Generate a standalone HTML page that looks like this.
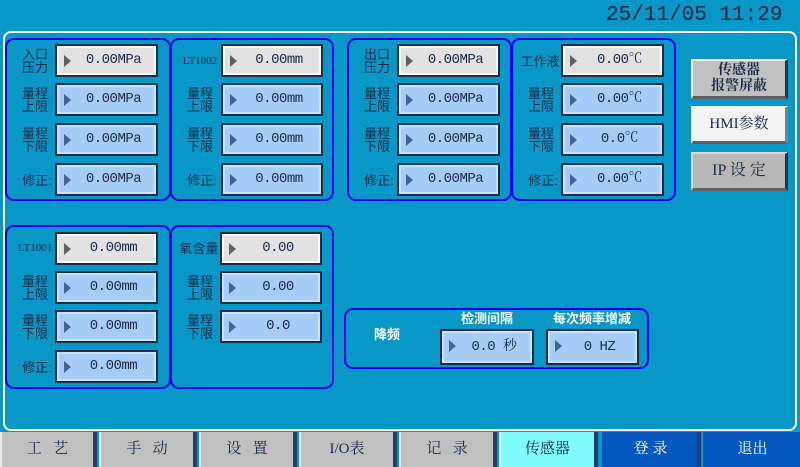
<!DOCTYPE html><html><head><meta charset="utf-8"><style>
*{margin:0;padding:0;box-sizing:border-box}
body{width:800px;height:467px;background:#0898c8;position:relative;overflow:hidden;font-family:"Liberation Serif","Noto Serif CJK SC",serif;color:#1a2a48}
.a{position:absolute}
.panel{left:3px;top:31px;width:794px;height:400px;border:2px solid #fff;border-radius:8px}
.g{position:absolute;border:2px solid #0000f0;border-radius:9px}
.f{position:absolute;height:33px;border:2px solid #1c2c44;background:#a6cdf7;box-shadow:inset 0 0 0 2px #c8e2ff;font-family:"Liberation Mono","Noto Serif CJK SC",monospace;font-size:14px;text-align:center;line-height:29px;padding-left:14px;letter-spacing:-0.5px}
.f.w{background:#e2e2e2;box-shadow:inset 0 0 0 2px #fafafa}
.f::before{content:"";position:absolute;left:7px;top:9px;border-left:7px solid #46609a;border-top:6px solid transparent;border-bottom:6px solid transparent}
.f.w::before{border-left-color:#606060}
.l{position:absolute;font-family:"Liberation Sans","Noto Sans CJK SC",sans-serif;font-size:13px;line-height:13px;text-align:center;color:#1a2a48}
.b{position:absolute;top:432px;height:35px;background:#c0c0c0;border-right:4px solid #20406a;border-left:2px solid #e8e8e8;font-family:"Liberation Serif","Noto Serif CJK SC",serif;font-size:15px;text-align:center;line-height:35px;color:#1a2a48}
.rb{position:absolute;left:691px;width:97px;border-top:2px solid #fff;border-left:2px solid #fff;border-right:3px solid #303030;border-bottom:3px solid #606060;text-align:center;font-size:15px}
</style></head><body>
<div class="a" style="left:606px;top:3px;font-family:'Liberation Mono',monospace;font-size:21px;line-height:26px;color:#102040">25/11/05 11:29</div>
<div class="a panel"></div>

<div class="g" style="left:5px;top:38px;width:166px;height:163px"></div>
<div class="g" style="left:170px;top:38px;width:164px;height:163px"></div>
<div class="g" style="left:347px;top:38px;width:165px;height:163px"></div>
<div class="g" style="left:511px;top:38px;width:165px;height:163px"></div>
<div class="g" style="left:5px;top:225px;width:166px;height:164px"></div>
<div class="g" style="left:170px;top:225px;width:164px;height:164px"></div>
<div class="g" style="left:344px;top:308px;width:305px;height:61px"></div>

<div class="l" style="left:20px;top:48px;width:30px">入口<br>压力</div>
<div class="f w" style="left:55px;top:44px;width:103px">0.00MPa</div>
<div class="l" style="left:20px;top:87px;width:30px">量程<br>上限</div>
<div class="f" style="left:55px;top:83px;width:103px">0.00MPa</div>
<div class="l" style="left:20px;top:127px;width:30px">量程<br>下限</div>
<div class="f" style="left:55px;top:123px;width:103px">0.00MPa</div>
<div class="l" style="left:18px;top:174px;width:38px">修正:</div>
<div class="f" style="left:55px;top:163px;width:103px">0.00MPa</div>

<div class="l" style="left:179px;top:55px;width:42px;font-family:'Liberation Serif',serif;font-size:11px">LT1002</div>
<div class="f w" style="left:221px;top:44px;width:102px">0.00mm</div>
<div class="l" style="left:185px;top:87px;width:30px">量程<br>上限</div>
<div class="f" style="left:221px;top:83px;width:102px">0.00mm</div>
<div class="l" style="left:185px;top:127px;width:30px">量程<br>下限</div>
<div class="f" style="left:221px;top:123px;width:102px">0.00mm</div>
<div class="l" style="left:183px;top:174px;width:38px">修正:</div>
<div class="f" style="left:221px;top:163px;width:102px">0.00mm</div>

<div class="l" style="left:362px;top:48px;width:30px">出口<br>压力</div>
<div class="f w" style="left:397px;top:44px;width:103px">0.00MPa</div>
<div class="l" style="left:362px;top:87px;width:30px">量程<br>上限</div>
<div class="f" style="left:397px;top:83px;width:103px">0.00MPa</div>
<div class="l" style="left:362px;top:127px;width:30px">量程<br>下限</div>
<div class="f" style="left:397px;top:123px;width:103px">0.00MPa</div>
<div class="l" style="left:360px;top:174px;width:38px">修正:</div>
<div class="f" style="left:397px;top:163px;width:103px">0.00MPa</div>

<div class="l" style="left:518px;top:55px;width:44px">工作液</div>
<div class="f w" style="left:561px;top:44px;width:103px">0.00℃</div>
<div class="l" style="left:526px;top:87px;width:30px">量程<br>上限</div>
<div class="f" style="left:561px;top:83px;width:103px">0.00℃</div>
<div class="l" style="left:526px;top:127px;width:30px">量程<br>下限</div>
<div class="f" style="left:561px;top:123px;width:103px">0.0℃</div>
<div class="l" style="left:524px;top:174px;width:38px">修正:</div>
<div class="f" style="left:561px;top:163px;width:103px">0.00℃</div>

<div class="l" style="left:14px;top:242px;width:42px;font-family:'Liberation Serif',serif;font-size:11px">LT1001</div>
<div class="f w" style="left:55px;top:232px;width:103px">0.00mm</div>
<div class="l" style="left:20px;top:275px;width:30px">量程<br>上限</div>
<div class="f" style="left:55px;top:271px;width:103px">0.00mm</div>
<div class="l" style="left:20px;top:314px;width:30px">量程<br>下限</div>
<div class="f" style="left:55px;top:310px;width:103px">0.00mm</div>
<div class="l" style="left:18px;top:361px;width:38px">修正:</div>
<div class="f" style="left:55px;top:350px;width:103px">0.00mm</div>

<div class="l" style="left:176px;top:242px;width:46px">氧含量</div>
<div class="f w" style="left:220px;top:232px;width:102px">0.00</div>
<div class="l" style="left:185px;top:275px;width:30px">量程<br>上限</div>
<div class="f" style="left:220px;top:271px;width:102px">0.00</div>
<div class="l" style="left:185px;top:314px;width:30px">量程<br>下限</div>
<div class="f" style="left:220px;top:310px;width:102px">0.0</div>

<div class="l" style="left:365px;top:328px;width:44px;color:#fff;font-weight:bold">降频</div>
<div class="l" style="left:440px;top:312px;width:94px;color:#fff;font-weight:bold">检测间隔</div>
<div class="l" style="left:538px;top:312px;width:108px;color:#fff;font-weight:bold">每次频率增减</div>
<div class="f" style="left:440px;top:329px;width:94px;height:36px;line-height:32px">0.0 秒</div>
<div class="f" style="left:546px;top:329px;width:93px;height:36px;line-height:32px">0 HZ</div>

<div class="rb" style="top:59px;height:40px;background:#c0c0c0;font-weight:bold;font-size:14px;line-height:16px;padding-top:2px">传感器<br>报警屏蔽</div>
<div class="rb" style="top:106px;height:38px;background:#f4f4f4;line-height:33px;border-right-color:#808080">HMI参数</div>
<div class="rb" style="top:152px;height:39px;background:#b8b8b8;line-height:34px;font-size:16px;border-top-color:#d8d8d8;border-left-color:#d8d8d8">IP 设 定</div>

<div class="b" style="left:0;width:97px">工&nbsp;&nbsp;&nbsp;艺</div>
<div class="b" style="left:99px;width:98px">手&nbsp;&nbsp;&nbsp;动</div>
<div class="b" style="left:199px;width:98px">设&nbsp;&nbsp;&nbsp;置</div>
<div class="b" style="left:299px;width:98px">I/O表</div>
<div class="b" style="left:399px;width:98px">记&nbsp;&nbsp;&nbsp;录</div>
<div class="b" style="left:499px;width:99px;background:#80fcfc">传感器</div>
<div class="b" style="left:602px;width:99px;background:#0458c0;color:#fff;border-left-color:#0458c0">登 录</div>
<div class="b" style="left:703px;width:97px;background:#0458c0;color:#fff;border-left-color:#0458c0;border-right:none">退出</div>
</body></html>
